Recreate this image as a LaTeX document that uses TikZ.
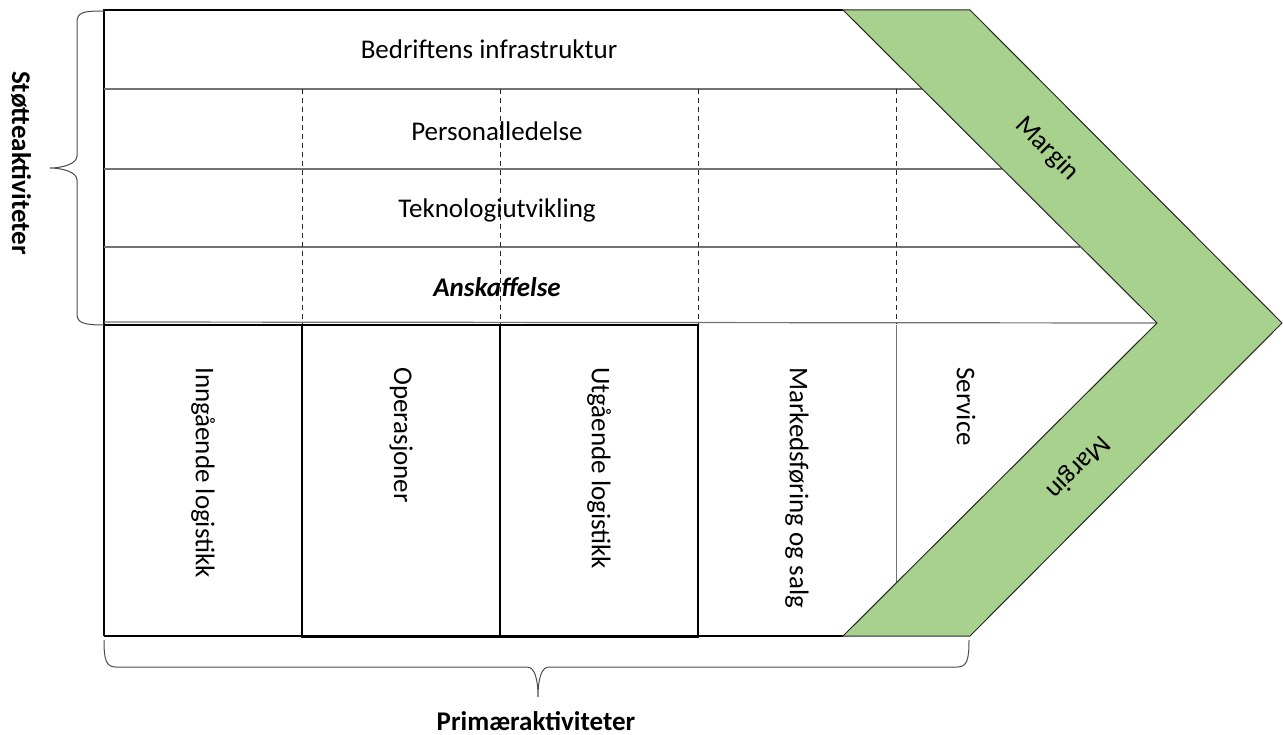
\documentclass[tikz,border=0pt]{standalone}
\usepackage{fontspec}
\setmainfont{Carlito}

\definecolor{margingreen}{RGB}{169,209,142}

\tikzset{
  rowline/.style={draw=black!55, line width=1.2pt},
  dashline/.style={draw=black!85, line width=1pt, dash pattern=on 5pt off 4pt},
  primbox/.style={draw=black, line width=1.4pt},
  lbl/.style={font=\fontsize{27}{32}\selectfont, inner sep=0pt},
  vlbl/.style={lbl, rotate=-90, anchor=west},
  grouplbl/.style={font=\fontsize{27}{32}\selectfont\bfseries, inner sep=0pt},
  bracestyle/.style={draw=black!70, line width=1pt},
}

\begin{document}
\begin{tikzpicture}[x=1pt, y=-1pt, line join=miter]
  \useasboundingbox (0,0) rectangle (1283,735);

  % corners of the margin band
  \coordinate (mtl) at (843,10);
  \coordinate (mtr) at (970,10);
  \coordinate (mout) at (1282,323);
  \coordinate (mbr) at (970,636);
  \coordinate (mbl) at (843,636);
  \coordinate (min) at (1157,323);

  % support rows
  \draw[draw=black, line width=1.2pt] (104,636) -- (104,10) -- (mtl);
  \draw[rowline] (104,89) -- (922,89);
  \draw[rowline] (104,169) -- (1002,169);
  \draw[rowline] (104,247) -- (1080,247);
  \draw[rowline] (104,322) -- (min);
  \foreach \x in {302,500,698,896}
    \draw[dashline] (\x,89) -- (\x,324);

  % primary activities
  \draw[primbox] (104,325) -- (302,325);
  \draw[primbox] (302,325) rectangle (500,637);
  \draw[primbox] (500,325) rectangle (698,637);
  \draw[draw=black, line width=1.2pt] (104,636) -- (mbl);
  \draw[draw=black, line width=1.2pt] (698,325) -- (698,636);
  \draw[draw=black!55, line width=1pt] (896,325) -- (896,583);

  % margin band
  \draw[fill=margingreen, draw=black!85, line width=1pt]
    (mtl) -- (mtr) -- (mout) -- (mbr) -- (mbl) -- (min) -- cycle;

  % labels
  \node[lbl] (infra) at (489,49) {Bedriftens infrastruktur};
  \node[lbl] (pers) at (497,131) {Personalledelse};
  \node[lbl] (tekn) at (497,210) {Teknologiutvikling};
  \node[lbl, font=\fontsize{27}{32}\selectfont\bfseries\itshape] (ansk) at (497,287) {Anskaffelse};

  \node[vlbl] (inng) at (203,367) {Inngående logistikk};
  \node[vlbl] (oper) at (401,367) {Operasjoner};
  \node[vlbl] (utg) at (599,367) {Utgående logistikk};
  \node[vlbl] (mark) at (797,367) {Markedsføring og salg};
  \node[vlbl] (serv) at (966,367) {Service};

  \node[lbl, rotate=-45] (marginup) at (1047,149) {Margin};
  \node[lbl, rotate=-135] (margindown) at (1078,467) {Margin};

  % braces
  \draw[bracestyle] (104,11) .. controls (84,11) and (77,12) .. (77,22) -- (77,156)
    .. controls (77,164) and (62,168) .. (50,168)
    .. controls (62,168) and (77,172) .. (77,180) -- (77,314)
    .. controls (77,323) and (84,325) .. (104,325);
  \draw[bracestyle] (104,640) .. controls (104,660) and (106,667) .. (116,667) -- (527,667)
    .. controls (535,667) and (538,680) .. (538,697)
    .. controls (538,680) and (541,667) .. (549,667) -- (957,667)
    .. controls (967,667) and (969,660) .. (969,640);
  \node[grouplbl, rotate=-90] (stotte) at (21,163) {Støtteaktiviteter};
  \node[grouplbl] (primaer) at (536,721) {Primæraktiviteter};
\end{tikzpicture}
\end{document}
